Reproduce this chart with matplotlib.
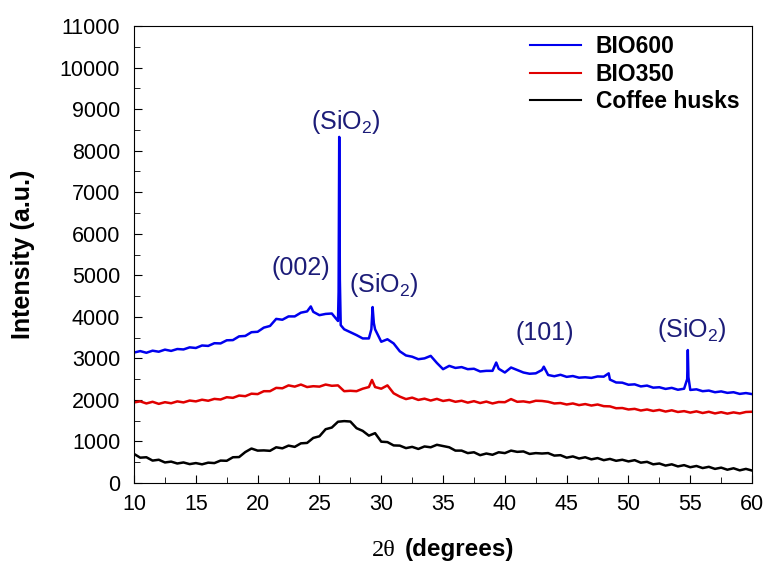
import numpy as np
import matplotlib
matplotlib.use("Agg")
import matplotlib.pyplot as plt
from matplotlib.ticker import MultipleLocator
from matplotlib.offsetbox import TextArea, HPacker, AnchoredOffsetbox

plt.rcParams['font.family'] = ['Liberation Sans', 'DejaVu Sans']
plt.rcParams['mathtext.fontset'] = 'custom'
plt.rcParams['mathtext.rm'] = 'Liberation Sans'

# sampling grid (degrees 2theta), 0.5 step
grid = np.arange(10.0, 60.01, 0.5)

# coffee husks (raw)
husk_y = [700, 610, 620, 540, 560, 495, 515, 470, 495, 455,
          480, 450, 490, 480, 540, 535, 620, 625, 745, 830,
          780, 785, 775, 860, 835, 900, 870, 955, 965, 1085,
          1125, 1295, 1335, 1475, 1490, 1480, 1320, 1255, 1140, 1200,
          995, 985, 905, 900, 840, 870, 820, 880, 860, 920,
          890, 860, 780, 780, 720, 740, 670, 710, 680, 740,
          720, 780, 750, 760, 700, 720, 710, 720, 660, 670,
          610, 640, 590, 620, 570, 600, 550, 580, 535, 560,
          520, 550, 490, 510, 450, 470, 420, 450, 400, 430,
          380, 410, 360, 390, 340, 370, 320, 355, 305, 340, 300]

# BIO350
b350_y = [1940, 1965, 1915, 1955, 1905, 1945, 1920, 1965, 1940, 1985,
          1965, 2005, 1980, 2025, 2010, 2065, 2050, 2105, 2090, 2150,
          2140, 2210, 2210, 2290, 2280, 2350, 2320, 2370, 2310, 2330,
          2320, 2370, 2340, 2350, 2210, 2220, 2210, 2270, 2310, 2310,
          2270, 2350, 2160, 2080, 2020, 2055, 2000, 2030, 1985, 2025,
          1975, 2000, 1955, 1980, 1935, 1970, 1925, 1960, 1915, 1950,
          1945, 2020, 1955, 1965, 1940, 1980, 1975, 1955, 1915, 1925,
          1890, 1915, 1875, 1900, 1865, 1890, 1850, 1845, 1800, 1805,
          1770, 1785, 1745, 1770, 1735, 1760, 1720, 1750, 1710, 1730,
          1695, 1725, 1685, 1715, 1675, 1705, 1670, 1700, 1675, 1710, 1715]
b350_peak_x = [29.25]
b350_peak_y = [2480]

# BIO600
b600_y = [3140, 3175, 3135, 3185, 3160, 3210, 3180, 3225, 3215, 3265,
          3250, 3310, 3300, 3365, 3360, 3435, 3440, 3530, 3540, 3630,
          3640, 3740, 3780, 3950, 3930, 4010, 4010, 4100, 4130, 4120,
          4040, 4070, 4080, 3900, 3700, 3630, 3560, 3480, 3480, 3700,
          3400, 3460, 3360, 3170, 3070, 3040, 2980, 3000, 3060, 2890,
          2740, 2820, 2770, 2790, 2740, 2750, 2685, 2700, 2700, 2750,
          2660, 2780, 2720, 2660, 2630, 2640, 2720, 2600, 2570, 2605,
          2555, 2575, 2535, 2545, 2530, 2565, 2560, 2490, 2420, 2415,
          2365, 2375, 2325, 2345, 2295, 2305, 2265, 2290, 2245, 2270,
          2240, 2255, 2210, 2225, 2185, 2205, 2170, 2185, 2145, 2165, 2140]
b600_peak_x = [24.3, 26.55, 26.6, 26.65, 26.72, 29.2, 29.3, 29.4, 39.3,
               43.15, 48.4, 54.75, 54.8, 54.85]
b600_peak_y = [4250, 4600, 8330, 4900, 3800, 3700, 4235, 3850, 2900,
               2800, 2640, 2500, 3200, 2550]

labels = ['BIO600', 'BIO350', 'Coffee husks']
colors = ['#0000ee', '#e00000', 'black']


def merge(xs, ys, px, py):
    x = np.concatenate([xs, px])
    y = np.concatenate([ys, py])
    order = np.argsort(x)
    return x[order], y[order]


x600, y600 = merge(grid, b600_y, b600_peak_x, b600_peak_y)
x350, y350 = merge(grid, b350_y, b350_peak_x, b350_peak_y)

fig = plt.figure(figsize=(7.69, 5.65), dpi=100)
ax = fig.add_axes([0.1743, 0.1451, 0.8037, 0.8089])

ax.plot(x600, y600, color=colors[0], lw=1.8, label=labels[0])
ax.plot(x350, y350, color=colors[1], lw=1.8, label=labels[1])
ax.plot(grid, husk_y, color=colors[2], lw=1.8, label=labels[2])

ax.set_xlim(10, 60)
ax.set_ylim(0, 11000)
ax.xaxis.set_major_locator(MultipleLocator(5))
ax.xaxis.set_minor_locator(MultipleLocator(2.5))
ax.yaxis.set_major_locator(MultipleLocator(1000))
ax.yaxis.set_minor_locator(MultipleLocator(500))
ax.tick_params(which='both', direction='in', labelsize=15.5)
ax.tick_params(axis='y', pad=10)
ax.tick_params(axis='x', pad=8)
ax.tick_params(which='major', length=6)
ax.tick_params(which='minor', length=4)

ax.set_ylabel('Intensity (a.u.)', fontsize=18, fontweight='bold')
ax.yaxis.set_label_coords(-0.16, 0.5)

# x label: serif 2θ + bold sans (degrees)
t1 = TextArea('2θ', textprops=dict(family='Liberation Serif', fontsize=17.5))
t2 = TextArea('(degrees)', textprops=dict(fontsize=17.5, fontweight='bold'))
box = HPacker(children=[t1, t2], align='baseline', pad=0, sep=6)
anch = AnchoredOffsetbox(loc='center', child=box, frameon=False,
                         bbox_to_anchor=(0.5, -0.145), bbox_transform=ax.transAxes,
                         borderpad=0)
ax.add_artist(anch)

# peak annotations
ann_color = '#1c1c78'
notes = [('(SiO$_\\mathregular{2}$)', 27.15, 8700),
         ('(002)', 23.5, 5175),
         ('(SiO$_\\mathregular{2}$)', 30.2, 4765),
         ('(101)', 43.2, 3610),
         ('(SiO$_\\mathregular{2}$)', 55.15, 3680)]
for txt, xx, yy in notes:
    ax.text(xx, yy, txt, fontsize=18, color=ann_color, ha='center', va='center')

leg = ax.legend(loc='upper left', bbox_to_anchor=(0.641, 0.98), frameon=False,
                prop=dict(size=16.5, weight='bold'), handlelength=2.2,
                handletextpad=0.65, labelspacing=0.2, borderpad=0, borderaxespad=0)
for line in leg.get_lines():
    line.set_linewidth(1.5)

fig.savefig('out.png', dpi=100)
